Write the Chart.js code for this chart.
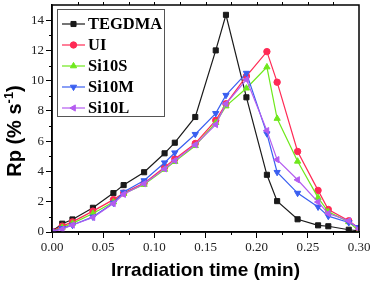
<!DOCTYPE html>
<html><head><meta charset="utf-8">
<style>html,body{margin:0;padding:0;background:#fff;}#wrap{width:373px;height:285px;}</style>
<script src="https://cdn.jsdelivr.net/npm/chart.js@4"></script>
</head><body><div id="wrap"><canvas id="c" width="373" height="285"></canvas></div>
<script>
// ---- data ----
const times   = [0, 0.01, 0.02, 0.04, 0.06, 0.07, 0.09, 0.11, 0.12, 0.14, 0.16, 0.17, 0.19, 0.21, 0.22, 0.24, 0.26, 0.27, 0.29, 0.30];
const tegdma  = [0.05, 0.55, 0.83, 1.6, 2.57, 3.1, 3.95, 5.2, 5.9, 7.6, 12.0, 14.35, 8.9, 3.78, 2.04, 0.84, 0.44, 0.38, 0.15, 0.08];
const ui      = [0.05, 0.39, 0.67, 1.38, 2.14, 2.57, 3.23, 4.28, 4.83, 5.85, 7.38, 8.47, 10.3, 11.92, 9.9, 5.32, 2.75, 1.49, 0.74, 0.25];
const si10s   = [0.02, 0.3, 0.57, 1.22, 1.98, 2.53, 3.14, 4.13, 4.65, 5.7, 7.22, 8.32, 9.5, 10.9, 7.5, 4.67, 2.27, 1.33, 0.67, 0.05];
const si10m   = [0.02, 0.24, 0.46, 1.0, 1.92, 2.64, 3.4, 4.58, 5.24, 6.46, 7.84, 9.04, 10.5, 6.5, 3.95, 2.57, 1.66, 1.05, 0.63, 0.3];
const si10l   = [0.02, 0.18, 0.46, 0.96, 1.88, 2.49, 3.19, 4.17, 4.72, 5.76, 7.1, 8.47, 10.07, 6.7, 4.78, 3.45, 1.98, 1.22, 0.74, 0.2];
const seriesNames = ['TEGDMA', 'UI', 'Si10S', 'Si10M', 'Si10L'];
const xTickValues = [0, 0.05, 0.10, 0.15, 0.20, 0.25, 0.30];
const xTickLabels = ['0.00', '0.05', '0.10', '0.15', '0.20', '0.25', '0.30'];
const yTickValues = [0, 2, 4, 6, 8, 10, 12, 14];
const yTickLabels = ['0', '2', '4', '6', '8', '10', '12', '14'];
const xTitle = 'Irradiation time (min)';
const yTitleParts = ['Rp (% s', '-1', ')'];

// ---- styles ----
const styles = [
  {color: '#1a1a1a', point: 'rect', rot: 0, r: 3.6},
  {color: '#ff2a55', point: 'circle', rot: 0, r: 3.2},
  {color: '#6fe81c', point: 'triangle', rot: 0, r: 3.6},
  {color: '#3a5ff0', point: 'triangle', rot: 180, r: 3.6},
  {color: '#b45cf0', point: 'triangle', rot: 270, r: 3.6}
];
const allSeries = [tegdma, ui, si10s, si10m, si10l];

const datasets = allSeries.map((vals, i) => ({
  label: seriesNames[i],
  data: times.map((t, k) => ({x: t, y: vals[k]})),
  borderColor: styles[i].color,
  backgroundColor: styles[i].color,
  borderWidth: 1.2,
  pointStyle: styles[i].point,
  pointRotation: styles[i].rot,
  pointRadius: styles[i].r,
  pointBorderWidth: 1,
  tension: 0,
  order: 5 - i
}));

const serif = '"Liberation Serif", "Times New Roman", serif';
const sans = '"Liberation Sans", Arial, sans-serif';

const framePlugin = {
  id: 'frame',
  afterDraw(chart) {
    const ctx = chart.ctx, a = chart.chartArea;
    const xs = chart.scales.x, ys = chart.scales.y;
    ctx.save();
    ctx.strokeStyle = '#000';
    ctx.lineWidth = 1.5;
    ctx.strokeRect(a.left, a.top, a.right - a.left, a.bottom - a.top);
    ctx.lineWidth = 1;
    ctx.beginPath();
    // minor y ticks (left)
    for (let v = 1; v < 15; v += 2) {
      const p = Math.round(ys.getPixelForValue(v)) + 0.5;
      ctx.moveTo(a.left - 3, p); ctx.lineTo(a.left, p);
    }
    // minor x ticks (bottom)
    for (let v = 0.025; v < 0.3; v += 0.05) {
      const p = Math.round(xs.getPixelForValue(v)) + 0.5;
      ctx.moveTo(p, a.bottom); ctx.lineTo(p, a.bottom + 3);
    }
    // top ticks
    for (let k = 1; k < 12; k++) {
      const p = Math.round(xs.getPixelForValue(k * 0.025)) + 0.5;
      ctx.moveTo(p, a.top); ctx.lineTo(p, a.top - 3);
    }
    ctx.stroke();
    ctx.restore();
  }
};

const legendPlugin = {
  id: 'insideLegend',
  afterDraw(chart) {
    const ctx = chart.ctx;
    ctx.save();
    ctx.strokeStyle = '#555';
    ctx.lineWidth = 1;
    ctx.strokeRect(57.5, 9.5, 107, 107);
    chart.data.datasets.forEach((ds, i) => {
      const y = 24 + i * 21;
      ctx.strokeStyle = ds.borderColor;
      ctx.fillStyle = ds.backgroundColor;
      ctx.lineWidth = 1.2;
      ctx.beginPath(); ctx.moveTo(62, y); ctx.lineTo(85, y); ctx.stroke();
      ctx.lineWidth = 1;
      Chart.helpers.drawPoint(ctx, {pointStyle: ds.pointStyle, rotation: ds.pointRotation, radius: ds.pointRadius, borderWidth: 1}, 73.5, y);
      ctx.fillStyle = '#000';
      ctx.font = 'bold 16.5px ' + serif;
      ctx.textBaseline = 'middle';
      ctx.textAlign = 'left';
      ctx.fillText(ds.label, 88, y + 1);
    });
    ctx.restore();
  }
};

const yTitlePlugin = {
  id: 'yTitle',
  afterDraw(chart) {
    const ctx = chart.ctx;
    ctx.save();
    ctx.translate(14, 131);
    ctx.rotate(-Math.PI / 2);
    const main = 'bold 20px ' + sans, sup = 'bold 13px ' + sans;
    ctx.font = main;
    const w1 = ctx.measureText(yTitleParts[0]).width, w3 = ctx.measureText(yTitleParts[2]).width;
    ctx.font = sup;
    const w2 = ctx.measureText(yTitleParts[1]).width;
    let x = -(w1 + w2 + w3) / 2;
    const base = 6.5;
    ctx.fillStyle = '#000';
    ctx.textBaseline = 'alphabetic';
    ctx.textAlign = 'left';
    ctx.font = main; ctx.fillText(yTitleParts[0], x, base); x += w1;
    ctx.font = sup; ctx.fillText(yTitleParts[1], x, base - 8); x += w2;
    ctx.font = main; ctx.fillText(yTitleParts[2], x, base);
    ctx.restore();
  }
};

new Chart(document.getElementById('c'), {
  type: 'line',
  data: {datasets},
  options: {
    responsive: false,
    devicePixelRatio: 1,
    animation: false,
    layout: {padding: {left: 0, right: 14, top: 3, bottom: 0}},
    plugins: {legend: {display: false}, tooltip: {enabled: false}},
    scales: {
      x: {
        type: 'linear', min: 0, max: 0.30,
        afterBuildTicks: s => { s.ticks = xTickValues.map(v => ({value: v})); },
        afterFit: s => { s.height = 53; s.paddingLeft = 0; s.paddingRight = 0; },
        ticks: {
          callback: (v) => { const i = xTickValues.findIndex(t => Math.abs(t - v) < 1e-9); return i >= 0 ? xTickLabels[i] : ''; },
          font: {family: serif, size: 13}, color: '#222', padding: 2, maxRotation: 0, minRotation: 0, autoSkip: false
        },
        grid: {drawOnChartArea: false, drawTicks: true, tickLength: 6, color: '#000', tickColor: '#000'},
        border: {display: true, color: '#000', width: 1.5},
        title: {display: true, text: xTitle, font: {family: sans, size: 19, weight: 'bold'}, color: '#000', padding: {top: 0, bottom: 3}}
      },
      y: {
        type: 'linear', min: 0, max: 15,
        afterBuildTicks: s => { s.ticks = yTickValues.map(v => ({value: v})); },
        afterFit: s => { s.width = 52; s.paddingTop = 0; s.paddingBottom = 0; },
        ticks: {
          callback: (v) => { const i = yTickValues.indexOf(v); return i >= 0 ? yTickLabels[i] : ''; },
          font: {family: serif, size: 13}, color: '#222', padding: 2, autoSkip: false
        },
        grid: {drawOnChartArea: false, drawTicks: true, tickLength: 6, color: '#000', tickColor: '#000'},
        border: {display: true, color: '#000', width: 1.5}
      }
    }
  },
  plugins: [framePlugin, legendPlugin, yTitlePlugin]
});
</script>
</body></html>
